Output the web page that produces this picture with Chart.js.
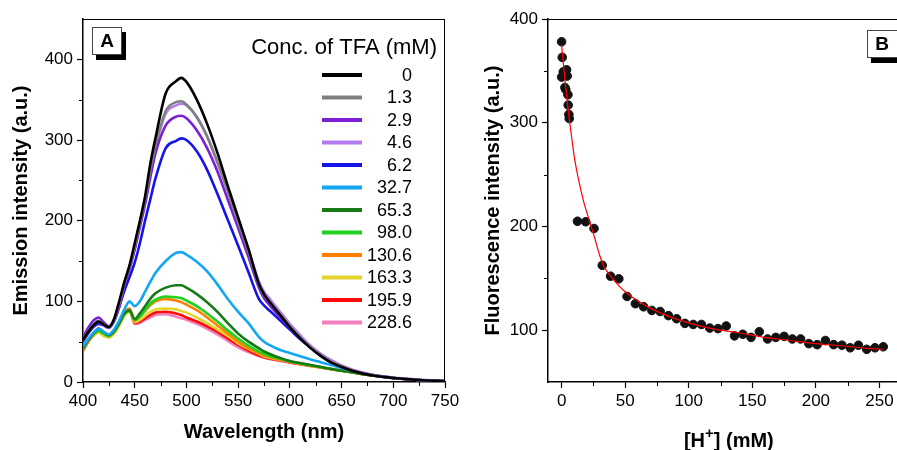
<!DOCTYPE html>
<html>
<head>
<meta charset="utf-8">
<script src="https://cdn.jsdelivr.net/npm/chart.js"></script>
<style>
  html, body { margin: 0; padding: 0; background: #fff; overflow: hidden; }
  #wrap { position: relative; width: 897px; height: 450px; overflow: hidden; }
  #chartA { position: absolute; left: 0; top: 0; }
  #chartB { position: absolute; left: 450px; top: 0; }
</style>
</head>
<body>
<div id="wrap">
  <canvas id="chartA" width="470" height="450"></canvas>
  <canvas id="chartB" width="465" height="450"></canvas>
</div>
<script>
// ---- panel A: emission spectra at each TFA concentration ----
var wavelength = [400, 405, 410, 415, 420, 425, 430, 435, 440, 445,
                  450, 455, 460, 465, 470, 480, 490, 495, 500, 510,
                  520, 530, 540, 550, 560, 570, 575, 580, 590, 600,
                  610, 620, 630, 640, 650, 660, 680, 700, 725, 750];

var concLabels = ['0', '1.3', '2.9', '4.6', '6.2', '32.7', '65.3', '98.0', '130.6', '163.3', '195.9', '228.6'];

var em0    = [52, 62, 70, 75, 71, 68, 78, 100, 124, 145, 172, 200, 230, 270, 302, 358, 373, 377, 372, 350,
              320, 284, 243, 204, 165, 122, 109, 100, 84, 68, 54, 42, 32, 24, 18.5, 14, 8, 5, 2.5, 1];
var em1_3  = [53, 63, 71, 76, 71, 68, 77, 97, 123, 143, 168, 197, 226, 262, 293, 336, 347, 348, 344, 329,
              304, 272, 236, 198, 161, 121, 108, 100, 85, 69, 55, 43, 33, 25, 19.5, 14.5, 8.5, 5, 2.5, 1];
var em2_9  = [56, 67, 76, 80, 74, 69, 76, 93, 120, 140, 164, 192, 220, 253, 283, 318, 329, 330, 327, 312,
              290, 261, 226, 191, 155, 117, 104, 96, 81, 67, 54, 43, 33, 25, 19.5, 14.5, 8.5, 5, 2.5, 1];
var em4_6  = [52, 62, 70, 75, 70, 67, 76, 95, 121, 141, 166, 195, 224, 259, 290, 333, 343, 345, 343, 328,
              305, 273, 238, 201, 164, 125, 112, 104, 88, 72, 58, 45, 35, 27, 20.5, 15.5, 9, 5.5, 3, 1.2];
var em6_2  = [50, 60, 68, 72, 70, 67, 75, 93, 113, 130, 148, 172, 200, 226, 252, 290, 299, 302, 300, 286,
              263, 233, 201, 169, 136, 103, 95, 89, 77, 65, 53, 43, 33, 25.5, 19.5, 14.5, 8.5, 5, 2.5, 1];
var em32_7 = [44, 53, 61, 66, 62, 59, 65, 76, 90, 100, 94, 100, 112, 124, 135, 150, 160, 161, 158, 149,
              137, 121, 103, 87, 73, 56, 50, 46, 40, 36, 32, 28, 24.5, 21, 17, 14, 8.5, 5, 2.5, 1.2];
var em65_3 = [42, 52, 60, 66, 62, 58, 63, 73, 85, 89, 78, 85, 94, 103, 110, 117, 120, 120, 117, 109,
              99, 87, 73, 60, 50, 42, 38, 35, 30, 26, 23.5, 21, 18.5, 16, 14, 12, 8, 5, 2.5, 1];
var em98_0 = [41, 51, 59, 63, 60, 57, 62, 72, 84, 88, 77, 81, 89, 97, 102, 106, 105, 104, 101, 94,
              85, 75, 64, 54, 45, 38, 35, 32.5, 29, 25.5, 23, 20.5, 18.5, 16, 14, 12, 8, 5, 2.5, 1];
var em130_6 = [40, 50, 58, 64, 60, 57, 62, 73, 86, 91, 76, 81, 88, 95, 100, 103, 101, 99, 96, 89,
               80, 70, 60, 50, 42, 36, 33, 31, 28, 25, 22.5, 20.5, 18, 16, 14, 12, 8, 5, 2.5, 1];
var em163_3 = [43, 51, 57, 61, 57, 55, 60, 70, 82, 87, 74, 77, 82, 87, 90, 91, 90, 88, 86, 80,
               73, 65, 57, 48, 41, 35, 32, 30, 27.5, 25, 22.5, 20, 18, 16, 14, 12, 8, 5, 2.5, 1];
var em195_9 = [39, 50, 58, 65, 61, 57, 62, 72, 84, 89, 73, 75, 79, 83, 86, 87, 85, 83, 80, 75,
               69, 62, 54, 46, 39, 33, 31, 29, 27, 24.5, 22, 20, 18, 16, 14, 12, 8, 5, 2.5, 1];
var em228_6 = [42, 52, 60, 67, 62, 58, 63, 72, 84, 88, 72, 73, 77, 80, 83, 84, 81, 79, 77, 72,
               66, 59, 51, 43, 37, 32, 30, 28.5, 26.5, 24, 22, 20, 18, 16, 14, 12, 8, 5, 2.5, 1];

var spectra = [em0, em1_3, em2_9, em4_6, em6_2, em32_7, em65_3, em98_0, em130_6, em163_3, em195_9, em228_6];

var lineColors = ['#000000', '#808080', '#7a1fd6', '#b57cf2', '#1414e6', '#13a6f2',
                  '#167a16', '#1fd21f', '#ff8000', '#e6d42e', '#ff0a0a', '#f47fbf'];

// ---- panel B: intensity vs. proton concentration ----
var hConc = [0, 0.5, 0, 1.3, 3.9, 4.4, 2.6, 3.3, 5.0, 5.2, 5.7, 6.0,
             12.5, 19, 25.5, 32, 38.5, 45, 51.5, 58, 64.5, 71, 77.5, 84, 90.5, 97,
             103.5, 110, 116.5, 123, 129.5, 136, 142.5, 149, 155.5, 162, 168.5, 175,
             181.5, 188, 194.5, 201, 207.5, 214, 220.5, 227, 233.5, 240, 246.5, 253];
var fluo = [378, 363, 344, 349, 351, 345, 334, 332, 327, 317, 308, 304,
            205, 204.5, 198, 162.5, 152, 149.5, 132.5, 125.5, 122.5, 119, 118, 114, 111, 106.5,
            105.5, 105.5, 102, 101.5, 104, 94.5, 96, 93, 98.5, 91.5, 93, 94,
            91.5, 91.5, 87, 86, 90, 86, 85.5, 83, 85.5, 81.5, 83, 84];

var fitX = [0, 2, 4, 6, 8, 10, 12, 15, 18, 22, 26, 30, 33, 40, 45, 50, 60, 70, 84,
            100, 120, 139, 160, 180, 200, 222, 240, 253];
var fitY = [375, 349, 325, 304, 285, 267, 253, 236, 221, 205, 189, 172, 162, 150, 143, 137, 128, 121, 113.5,
            107, 101, 97.5, 93, 90, 87, 84.7, 82.5, 81.5];

var FONT = '"Liberation Sans", Arial, Helvetica, sans-serif';
Chart.defaults.font.family = FONT;
Chart.defaults.color = '#000';

// box outline, minor ticks and the panel letter
var framePlugin = {
  id: 'frame',
  afterDraw: function (chart, args, opts) {
    var ctx = chart.ctx, area = chart.chartArea;
    var xs = chart.scales.x, ys = chart.scales.y;
    ctx.save();
    ctx.strokeStyle = '#000';
    ctx.lineWidth = 1;
    ctx.beginPath();
    ctx.moveTo(area.left, area.top + 0.5);
    ctx.lineTo(area.right, area.top + 0.5);
    ctx.moveTo(area.right - 0.5, area.top);
    ctx.lineTo(area.right - 0.5, area.bottom);
    ctx.stroke();

    ctx.beginPath();
    for (var v = opts.xMinorStart; v < xs.max; v += opts.xMinor) {
      var px = Math.round(xs.getPixelForValue(v)) + 0.5;
      ctx.moveTo(px, area.bottom);
      ctx.lineTo(px, area.bottom + 4);
    }
    for (var w = opts.yMinorStart; w < ys.max; w += opts.yMinor) {
      var py = Math.round(ys.getPixelForValue(w)) + 0.5;
      ctx.moveTo(area.left, py);
      ctx.lineTo(area.left - 4, py);
    }
    ctx.stroke();

    var t = opts.tag;
    ctx.fillStyle = '#000';
    ctx.fillRect(t.x + 4, t.y + 5, t.w, t.h);
    ctx.fillStyle = '#fff';
    ctx.fillRect(t.x, t.y, t.w, t.h);
    ctx.strokeStyle = '#444';
    ctx.strokeRect(t.x + 0.5, t.y + 0.5, t.w - 1, t.h - 1);
    ctx.fillStyle = '#000';
    ctx.font = 'bold 19px ' + FONT;
    ctx.textAlign = 'center';
    ctx.textBaseline = 'middle';
    ctx.fillText(t.text, t.x + t.tx, t.y + t.h / 2 + 1);
    ctx.restore();
  }
};

// concentration key for panel A
var concLegend = {
  id: 'concLegend',
  afterDraw: function (chart, args, opts) {
    var ctx = chart.ctx;
    ctx.save();
    ctx.fillStyle = '#000';
    ctx.font = '22px ' + FONT;
    ctx.textAlign = 'right';
    ctx.textBaseline = 'middle';
    ctx.fillText(opts.title, opts.titleX, opts.titleY);
    ctx.font = '18px ' + FONT;
    chart.data.datasets.forEach(function (ds, i) {
      var y = opts.y0 + i * opts.dy;
      ctx.strokeStyle = ds.borderColor;
      ctx.lineWidth = 4;
      ctx.beginPath();
      ctx.moveTo(opts.x1, y);
      ctx.lineTo(opts.x2, y);
      ctx.stroke();
      ctx.fillText(ds.label, opts.textX, y + 1);
    });
    ctx.restore();
  }
};

// x title of panel B with a superscript
var hTitle = {
  id: 'hTitle',
  afterDraw: function (chart, args, opts) {
    var ctx = chart.ctx, area = chart.chartArea;
    var big = 'bold 20px ' + FONT, small = 'bold 15px ' + FONT;
    ctx.save();
    ctx.fillStyle = '#000';
    ctx.textBaseline = 'alphabetic';
    ctx.textAlign = 'left';
    ctx.font = big;
    var w1 = ctx.measureText('[H').width;
    var w3 = ctx.measureText('] (mM)').width;
    ctx.font = small;
    var w2 = ctx.measureText('+').width;
    var x = (area.left + area.right) / 2 - (w1 + w2 + w3) / 2;
    ctx.font = big;
    ctx.fillText('[H', x, opts.baseline);
    x += w1;
    ctx.font = small;
    ctx.fillText('+', x, opts.baseline - 9);
    x += w2;
    ctx.font = big;
    ctx.fillText('] (mM)', x, opts.baseline);
    ctx.restore();
  }
};

var tickFont = {size: 17};
var titleFont = {size: 20, weight: 'bold'};

var chartA = new Chart(document.getElementById('chartA'), {
  type: 'scatter',
  data: {
    datasets: spectra.map(function (s, i) {
      return {
        label: concLabels[i],
        data: wavelength.map(function (w, j) { return {x: w, y: s[j]}; }),
        showLine: true,
        borderColor: lineColors[i],
        backgroundColor: lineColors[i],
        borderWidth: 2.6,
        pointRadius: 0,
        cubicInterpolationMode: 'monotone'
      };
    })
  },
  options: {
    responsive: false,
    animation: false,
    layout: {padding: {top: 19, right: 25, bottom: 0, left: 0}},
    plugins: {
      legend: {display: false},
      tooltip: {enabled: false},
      frame: {xMinorStart: 425, xMinor: 50, yMinorStart: 50, yMinor: 100,
              tag: {text: 'A', x: 92, y: 27, w: 30, h: 28, tx: 15}},
      concLegend: {title: 'Conc. of TFA (mM)', titleX: 437, titleY: 48,
                   x1: 322, x2: 362, textX: 412, y0: 75, dy: 22.5}
    },
    scales: {
      x: {
        type: 'linear', min: 400, max: 750,
        ticks: {stepSize: 50, font: tickFont, color: '#000', padding: 3, maxRotation: 0, includeBounds: false},
        grid: {drawOnChartArea: false, tickLength: 6, tickColor: '#000', tickWidth: 1.2},
        border: {color: '#000', width: 1.5},
        title: {display: true, text: 'Wavelength (nm)', font: titleFont, color: '#000', padding: {top: 0, bottom: 6}},
        afterFit: function (scale) { scale.height = 68; }
      },
      y: {
        type: 'linear', min: 0, max: 450,
        ticks: {stepSize: 100, font: tickFont, color: '#000', padding: 4, includeBounds: false},
        grid: {drawOnChartArea: false, tickLength: 6, tickColor: '#000', tickWidth: 1.2},
        border: {color: '#000', width: 1.5},
        title: {display: true, text: 'Emission intensity (a.u.)', font: titleFont, color: '#000', padding: {top: 9, bottom: 0}},
        afterFit: function (scale) { scale.width = 83; }
      }
    }
  },
  plugins: [framePlugin, concLegend]
});

var chartB = new Chart(document.getElementById('chartB'), {
  type: 'scatter',
  data: {
    datasets: [{
      label: 'fit',
      data: fitX.map(function (x, i) { return {x: x, y: fitY[i]}; }),
      showLine: true,
      borderColor: '#ff0000',
      borderWidth: 1.2,
      pointRadius: 0,
      cubicInterpolationMode: 'monotone',
      order: 0
    }, {
      label: 'data',
      data: hConc.map(function (x, i) { return {x: x, y: fluo[i]}; }),
      showLine: false,
      pointRadius: 4.3,
      pointBackgroundColor: '#111',
      pointBorderColor: '#111',
      order: 1
    }]
  },
  options: {
    responsive: false,
    animation: false,
    layout: {padding: {top: 19, right: 3, bottom: 0, left: 0}},
    plugins: {
      legend: {display: false},
      tooltip: {enabled: false},
      frame: {xMinorStart: 25, xMinor: 50, yMinorStart: 150, yMinor: 100,
              tag: {text: 'B', x: 417, y: 30, w: 36, h: 28, tx: 15}},
      hTitle: {baseline: 447}
    },
    scales: {
      x: {
        type: 'linear', min: -10.7, max: 273.8,
        ticks: {stepSize: 50, font: tickFont, color: '#000', padding: 3, maxRotation: 0, includeBounds: false},
        grid: {drawOnChartArea: false, tickLength: 6, tickColor: '#000', tickWidth: 1.2},
        border: {color: '#000', width: 1.5},
        title: {display: false},
        afterFit: function (scale) { scale.height = 68; }
      },
      y: {
        type: 'linear', min: 50, max: 400,
        ticks: {stepSize: 100, font: tickFont, color: '#000', padding: 4, includeBounds: false},
        grid: {drawOnChartArea: false, tickLength: 6, tickColor: '#000', tickWidth: 1.2},
        border: {color: '#000', width: 1.5},
        title: {display: true, text: 'Fluorescence intensity (a.u.)', font: titleFont, color: '#000', padding: {top: 31, bottom: 0}},
        afterFit: function (scale) { scale.width = 98; }
      }
    }
  },
  plugins: [framePlugin, hTitle]
});
</script>
</body>
</html>
